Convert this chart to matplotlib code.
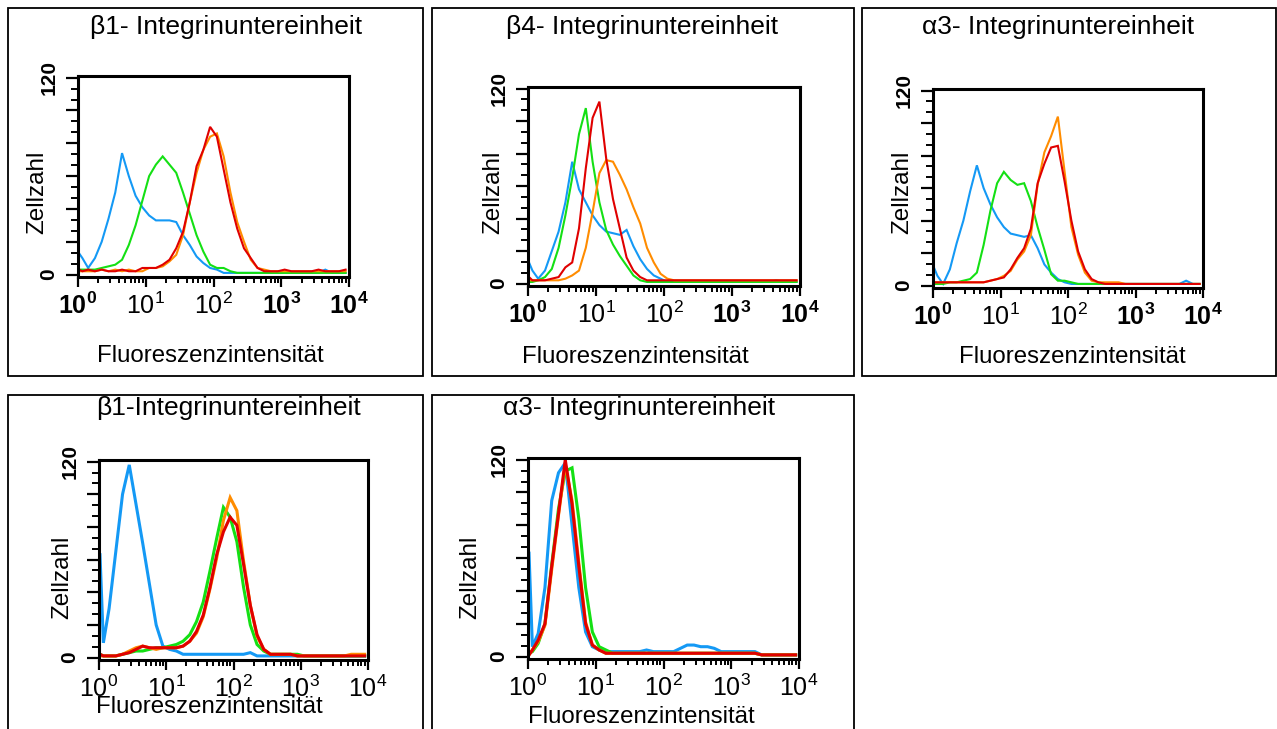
import matplotlib
matplotlib.use("Agg")
import matplotlib.pyplot as plt
from matplotlib.patches import Rectangle
from matplotlib.ticker import FixedLocator, LogLocator, MultipleLocator, NullFormatter
import numpy as np

plt.rcParams["font.family"] = ["Liberation Sans", "DejaVu Sans"]
plt.rcParams["mathtext.fontset"] = "custom"
plt.rcParams["mathtext.rm"] = "Liberation Sans"
plt.rcParams["mathtext.bf"] = "Liberation Sans:bold"

W, H = 1277, 729

# Kanalgrenzen in Dekaden: erster Kanal schmal, danach 0.1-Dekaden-Klassen
EDGES = np.r_[0.0, 0.03, np.round(np.arange(0.1, 4.001, 0.1), 2)]
CENTERS = 10 ** ((EDGES[:-1] + EDGES[1:]) / 2)

TITLES = ["β1- Integrinuntereinheit", "β4- Integrinuntereinheit", "α3- Integrinuntereinheit",
          "β1-Integrinuntereinheit", "α3- Integrinuntereinheit"]
XLABEL = "Fluoreszenzintensität"
YLABEL = "Zellzahl"

# Zellzahlen je Klasse (erster Kanal, dann 40 Klassen)
blue1 = [13, 10, 4, 10, 20, 34, 50, 74, 60, 48, 41, 36, 33, 33, 33, 32, 24, 18, 11, 7, 4, 3,
         1, 1, 1, 1, 1, 1, 1, 1, 1, 1, 1, 1, 1, 1, 1, 3, 1, 1, 1]
green1 = [3, 3, 3, 3, 4, 5, 6, 9, 18, 30, 45, 60, 67, 72, 67, 62, 50, 37, 24, 14, 6, 4,
          4, 2, 1, 1, 1, 1, 1, 1, 1, 1, 1, 1, 1, 1, 1, 1, 1, 1, 1]
red1 = [3, 2, 3, 2, 3, 2, 2, 3, 2, 2, 4, 4, 4, 6, 9, 16, 26, 44, 66, 76, 90, 84,
        64, 44, 28, 16, 10, 4, 2, 2, 2, 3, 2, 2, 2, 2, 3, 2, 2, 2, 3]
orange1 = [2, 2, 2, 2, 3, 2, 3, 2, 3, 2, 2, 4, 4, 5, 8, 12, 24, 44, 62, 76, 84, 86,
           72, 50, 32, 20, 9, 4, 3, 2, 2, 2, 2, 2, 2, 2, 2, 2, 2, 2, 2]

blue2 = [13, 8, 3, 8, 20, 32, 50, 75, 58, 50, 42, 36, 32, 31, 30, 33, 23, 15, 9, 5, 3,
         1, 1, 1, 1, 1, 1, 1, 1, 1, 1, 1, 1, 1, 1, 1, 1, 2, 1, 1, 1]
green2 = [1, 1, 2, 4, 9, 22, 42, 65, 92, 108, 75, 50, 33, 24, 17, 11, 5, 2,
          1, 1, 1, 1, 1, 1, 1, 1, 1, 1, 1, 1, 1, 1, 1, 1, 1, 1, 1, 1, 1, 1, 1]
red2 = [4, 2, 2, 2, 3, 4, 10, 13, 34, 71, 102, 112, 77, 52, 34, 16, 8, 4,
        2, 2, 2, 2, 2, 2, 2, 2, 2, 2, 2, 2, 2, 2, 2, 2, 2, 2, 2, 2, 2, 2, 2]
orange2 = [2, 2, 2, 2, 2, 2, 3, 5, 8, 22, 44, 68, 76, 75, 67, 58, 47, 37, 22, 13, 6, 3,
           2, 2, 2, 2, 2, 2, 2, 2, 2, 2, 2, 2, 2, 2, 2, 2, 2, 2, 2]

blue3 = [11, 6, 1, 10, 26, 40, 58, 74, 60, 50, 42, 36, 32, 31, 30, 31, 23, 13, 8, 4, 2,
         1, 1, 1, 1, 1, 1, 1, 1, 1, 1, 1, 1, 1, 1, 1, 1, 1, 3, 1, 1]
green3 = [1, 1, 1, 2, 2, 3, 4, 8, 25, 46, 63, 70, 65, 62, 63, 52, 36, 22, 7, 3, 3, 2,
          1, 1, 1, 1, 1, 1, 1, 1, 1, 1, 1, 1, 1, 1, 1, 1, 1, 1, 1]
red3 = [2, 2, 2, 2, 2, 2, 2, 2, 2, 3, 4, 5, 10, 17, 23, 35, 63, 75, 85, 86, 64, 40, 21,
        10, 4, 2, 1, 1, 1, 1, 1, 1, 1, 1, 1, 1, 1, 1, 1, 1, 1]
orange3 = [2, 2, 2, 2, 2, 2, 2, 2, 2, 3, 4, 6, 9, 16, 21, 31, 62, 82, 92, 104, 70, 36, 19,
           8, 3, 2, 2, 2, 2, 1, 1, 1, 1, 1, 1, 1, 1, 1, 1, 1, 1]

blue4 = [63, 9, 30, 65, 100, 118, 94, 70, 45, 20, 7, 5, 4, 2, 2, 2, 2, 2, 2, 2, 2, 2, 2, 3,
         1, 1, 1, 1, 1, 1, 1, 1, 1, 1, 1, 1, 1, 1, 1, 1, 1]
green4 = [2, 1, 1, 1, 2, 3, 4, 4, 5, 6, 6, 7, 8, 10, 14, 22, 34, 53, 73, 92, 86, 71, 43,
          20, 8, 4, 2, 2, 2, 2, 2, 1, 1, 1, 1, 1, 1, 1, 1, 1, 1]
red4 = [2, 1, 1, 1, 2, 3, 5, 7, 6, 6, 6, 6, 6, 7, 10, 16, 26, 43, 63, 77, 86, 81, 57,
        32, 14, 5, 2, 2, 2, 2, 1, 1, 1, 1, 1, 1, 1, 1, 1, 1, 1]
orange4 = [1, 1, 1, 1, 2, 4, 6, 7, 6, 5, 6, 6, 6, 7, 10, 15, 25, 42, 61, 84, 98, 90, 59,
           32, 13, 5, 2, 2, 2, 2, 1, 1, 1, 1, 1, 1, 1, 1, 2, 2, 2]

blue5 = [63, 6, 14, 42, 95, 112, 118, 80, 42, 15, 6, 4, 3, 3, 3, 3, 3, 3, 4, 3, 3, 3, 3,
         5, 7, 7, 6, 6, 5, 3, 3, 3, 3, 3, 3, 1, 1, 1, 1, 1, 1]
green5 = [2, 3, 8, 20, 56, 90, 113, 115, 84, 42, 15, 6, 4, 2, 2, 2, 2, 2, 2, 2, 2, 2, 2,
          2, 2, 2, 2, 2, 2, 2, 2, 2, 2, 2, 2, 1, 1, 1, 1, 1, 1]
red5 = [1, 4, 10, 20, 55, 87, 120, 93, 55, 20, 7, 4, 2, 2, 2, 2, 2, 2, 2, 2, 2, 2, 2,
        2, 2, 2, 2, 2, 2, 2, 2, 2, 2, 2, 2, 1, 1, 1, 1, 1, 1]
orange5 = [1, 4, 9, 19, 53, 86, 117, 95, 57, 21, 7, 4, 2, 2, 2, 2, 2, 2, 2, 2, 2, 2, 2,
           2, 2, 2, 2, 2, 2, 2, 2, 2, 2, 2, 2, 1, 1, 1, 1, 1, 1]

BLUE, GREEN, RED, ORANGE = "#1499F5", "#14E014", "#E00000", "#FF8C00"

PANELS = [
    (blue1, green1, orange1, red1),
    (blue2, green2, orange2, red2),
    (blue3, green3, orange3, red3),
    (blue4, green4, orange4, red4),
    (blue5, green5, orange5, red5),
]

# Layout in Pixeln: Tabellenzellen und Plotrahmen
CELLS = [(8, 8, 423, 376), (432, 8, 854, 376), (862, 8, 1276, 376),
         (8, 395, 423, 740), (432, 395, 854, 740)]
BOXES = [(78, 76, 349, 277), (528, 87, 800, 286), (933, 89, 1203, 288),
         (99, 460, 368, 660), (528, 458, 799, 659)]
TITLE_POS = [(226, 27), (642, 27), (1058, 27), (228, 408), (639, 408)]
XLAB_POS = [(210, 356), (635, 357), (1072, 357), (209, 707), (641, 717)]
YLAB_POS = [(37, 192), (493, 192), (902, 192), (62, 577), (470, 577)]


def fx(px):
    return px / W


def fy(py):
    return 1 - py / H


fig = plt.figure(figsize=(W / 100, H / 100), dpi=100)

for k, (cell, box, curves) in enumerate(zip(CELLS, BOXES, PANELS)):
    x0, y0, x1, y1 = cell
    fig.add_artist(Rectangle((fx(x0), fy(y1)), fx(x1 - x0), (y1 - y0) / H,
                             transform=fig.transFigure, fill=False, lw=1.3, ec="black"))
    bx0, by0, bx1, by1 = box
    ax = fig.add_axes([fx(bx0), fy(by1), fx(bx1 - bx0), (by1 - by0) / H])

    lw = 1.5 if k < 3 else 2.2
    for vals, col in zip(curves, (BLUE, GREEN, ORANGE, RED)):
        ax.plot(CENTERS, vals, color=col, lw=lw, solid_joinstyle="miter")

    ax.set_xscale("log")
    ax.set_xlim(1, 1e4)
    ax.set_ylim(-1.5, 121)
    for sp in ax.spines.values():
        sp.set_linewidth(2.2)

    bold = [True, False, False, True, True] if k < 3 else [False] * 5
    labels = []
    for e, b in enumerate(bold):
        labels.append(r"$\mathbf{10^{%d}}$" % e if b else r"$\mathrm{10^{%d}}$" % e)
    ax.set_xticks([1, 10, 100, 1000, 10000], labels=labels, fontsize=18)
    ax.xaxis.set_minor_locator(LogLocator(base=10, subs=np.arange(2, 10)))
    ax.xaxis.set_minor_formatter(NullFormatter())
    ax.tick_params(axis="x", which="major", direction="out", length=7, width=1.6, pad=4)
    ax.tick_params(axis="x", which="minor", direction="out", length=4.5, width=1.4)

    ax.yaxis.set_major_locator(FixedLocator([0, 20, 40, 60, 80, 100, 120]))
    ax.set_yticklabels(["0", "", "", "", "", "", "120"], rotation=90, va="center",
                       fontsize=15, fontweight="bold")
    ax.yaxis.set_minor_locator(MultipleLocator(20 / 3))
    ax.tick_params(axis="y", which="major", direction="out", length=9, width=1.6, pad=5)
    ax.tick_params(axis="y", which="minor", direction="out", length=5, width=1.4)

    tx, ty = TITLE_POS[k]
    fig.text(fx(tx), fy(ty), TITLES[k], ha="center", va="center", fontsize=19)
    lx, ly = XLAB_POS[k]
    fig.text(fx(lx), fy(ly), XLABEL, ha="center", va="center", fontsize=17.3)
    zx, zy = YLAB_POS[k]
    fig.text(fx(zx), fy(zy), YLABEL, ha="center", va="center", fontsize=17.5, rotation=90)

fig.savefig("out.png", dpi=100)
